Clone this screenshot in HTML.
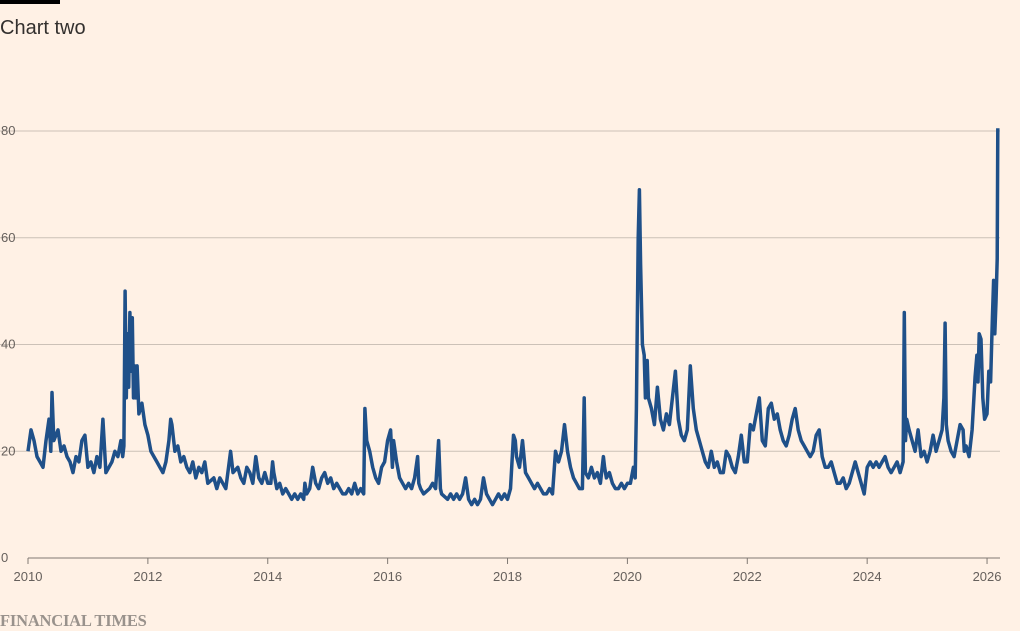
<!DOCTYPE html>
<html><head><meta charset="utf-8"><style>
body{margin:0;background:#fff1e5;width:1020px;height:630px;overflow:hidden;font-family:"Liberation Sans",sans-serif}
</style></head><body>
<div style="position:absolute;left:0;top:0;width:60px;height:4px;background:#000"></div>
<div style="position:absolute;left:0;top:17px;font-size:20px;color:#33302e">Chart two</div>
<svg id="c" width="1020" height="630" style="position:absolute;left:0;top:0"></svg>
<div style="position:absolute;left:0;top:611px;font-family:'Liberation Serif',serif;font-size:16.5px;color:#99928c;font-weight:bold;letter-spacing:-0.2px">FINANCIAL TIMES</div>
<script>
const years=[2010,2010.05,2010.1,2010.15,2010.2,2010.25,2010.3,2010.35,2010.38,2010.4,2010.43,2010.5,2010.55,2010.6,2010.65,2010.7,2010.75,2010.8,2010.85,2010.9,2010.95,2011,2011.05,2011.1,2011.15,2011.2,2011.25,2011.3,2011.35,2011.4,2011.45,2011.5,2011.55,2011.58,2011.6,2011.62,2011.64,2011.66,2011.68,2011.7,2011.72,2011.74,2011.76,2011.78,2011.8,2011.82,2011.85,2011.9,2011.95,2012,2012.05,2012.1,2012.15,2012.2,2012.25,2012.3,2012.35,2012.38,2012.4,2012.45,2012.5,2012.55,2012.6,2012.65,2012.7,2012.75,2012.8,2012.85,2012.9,2012.95,2013,2013.1,2013.15,2013.2,2013.25,2013.3,2013.38,2013.42,2013.5,2013.55,2013.6,2013.65,2013.7,2013.75,2013.8,2013.85,2013.9,2013.95,2014,2014.05,2014.08,2014.1,2014.15,2014.2,2014.25,2014.3,2014.35,2014.4,2014.45,2014.5,2014.55,2014.6,2014.62,2014.65,2014.7,2014.75,2014.8,2014.85,2014.9,2014.95,2015,2015.05,2015.1,2015.15,2015.2,2015.25,2015.3,2015.35,2015.4,2015.45,2015.5,2015.55,2015.6,2015.62,2015.65,2015.7,2015.75,2015.8,2015.85,2015.9,2015.95,2016,2016.05,2016.08,2016.1,2016.15,2016.2,2016.25,2016.3,2016.35,2016.4,2016.45,2016.5,2016.52,2016.55,2016.6,2016.7,2016.75,2016.8,2016.85,2016.88,2016.9,2017,2017.05,2017.1,2017.15,2017.2,2017.25,2017.3,2017.35,2017.4,2017.45,2017.5,2017.55,2017.6,2017.65,2017.7,2017.75,2017.8,2017.85,2017.9,2017.95,2018,2018.05,2018.1,2018.13,2018.15,2018.2,2018.25,2018.3,2018.35,2018.4,2018.45,2018.5,2018.55,2018.6,2018.65,2018.7,2018.75,2018.8,2018.85,2018.9,2018.95,2019,2019.05,2019.1,2019.15,2019.2,2019.25,2019.28,2019.3,2019.35,2019.4,2019.45,2019.5,2019.55,2019.6,2019.62,2019.65,2019.7,2019.75,2019.8,2019.85,2019.9,2019.95,2020,2020.05,2020.1,2020.13,2020.15,2020.18,2020.2,2020.22,2020.25,2020.28,2020.3,2020.33,2020.35,2020.4,2020.45,2020.5,2020.55,2020.6,2020.65,2020.7,2020.75,2020.8,2020.85,2020.9,2020.95,2021,2021.05,2021.1,2021.15,2021.2,2021.25,2021.3,2021.35,2021.4,2021.45,2021.5,2021.55,2021.6,2021.65,2021.7,2021.75,2021.8,2021.85,2021.9,2021.95,2022,2022.05,2022.1,2022.15,2022.2,2022.25,2022.3,2022.35,2022.4,2022.45,2022.5,2022.55,2022.6,2022.65,2022.7,2022.75,2022.8,2022.85,2022.9,2022.95,2023,2023.05,2023.1,2023.15,2023.2,2023.25,2023.3,2023.35,2023.4,2023.45,2023.5,2023.55,2023.6,2023.65,2023.7,2023.75,2023.8,2023.85,2023.9,2023.95,2024,2024.05,2024.1,2024.15,2024.2,2024.25,2024.3,2024.35,2024.4,2024.45,2024.5,2024.55,2024.6,2024.62,2024.64,2024.66,2024.7,2024.75,2024.8,2024.85,2024.9,2024.95,2025,2025.05,2025.1,2025.15,2025.2,2025.25,2025.28,2025.3,2025.32,2025.35,2025.4,2025.45,2025.5,2025.55,2025.6,2025.62,2025.65,2025.7,2025.75,2025.78,2025.8,2025.83,2025.85,2025.87,2025.9,2025.93,2025.96,2026,2026.03,2026.06,2026.09,2026.11,2026.13,2026.15,2026.17,2026.18];
const values=[20,24,22,19,18,17,22,26,20,31,22,24,20,21,19,18,16,19,18,22,23,17,18,16,19,17,26,16,17,18,20,19,22,19,21,50,30,42,32,46,35,45,30,36,30,36,27,29,25,23,20,19,18,17,16,18,22,26,25,20,21,18,19,17,16,18,15,17,16,18,14,15,13,15,14,13,20,16,17,15,14,17,16,14,19,15,14,16,14,14,18,16,13,14,12,13,12,11,12,11,12,11,14,12,13,17,14,13,15,16,14,15,13,14,13,12,12,13,12,14,12,13,12,28,22,20,17,15,14,17,18,22,24,17,22,18,15,14,13,14,13,15,19,14,13,12,13,14,13,22,13,12,11,12,11,12,11,12,15,11,10,11,10,11,15,12,11,10,11,12,11,12,11,13,23,22,19,17,22,16,15,14,13,14,13,12,12,13,12,20,18,20,25,20,17,15,14,13,13,30,16,15,17,15,16,14,19,17,15,16,14,13,13,14,13,14,14,17,15,28,60,69,55,40,38,30,37,30,28,25,32,26,24,27,25,30,35,26,23,22,24,36,28,24,22,20,18,17,20,17,18,16,16,20,19,17,16,19,23,18,18,25,24,27,30,22,21,28,29,26,27,24,22,21,23,26,28,24,22,21,20,19,20,23,24,19,17,17,18,16,14,14,15,13,14,16,18,16,14,12,17,18,17,18,17,18,19,17,16,17,18,16,18,46,22,26,24,22,20,24,19,20,18,20,23,20,22,24,30,44,25,22,20,19,22,25,24,20,21,19,24,30,34,38,33,42,41,30,26,27,35,33,45,52,42,48,56,80.5];
const yTicks=[0,20,40,60,80];
const xTicks=[2010,2012,2014,2016,2018,2020,2022,2024,2026];
const NS='http://www.w3.org/2000/svg';
const svg=document.getElementById('c');
const x=v=>28+(v-2010)*59.94;
const y=v=>558-v*5.3375;
function mk(t,a){const e=document.createElementNS(NS,t);for(const k in a)e.setAttribute(k,a[k]);svg.appendChild(e);return e;}
yTicks.forEach(t=>{
  if(t>0){const g=mk('line',{x1:0,x2:1000,y1:y(t),y2:y(t),stroke:'#ccc1b7','stroke-width':1});
  
  }
  const l=mk('text',{x:1,y:y(t)+4,'font-size':13,fill:'#66605c','font-family':'Liberation Sans, sans-serif'});
  l.textContent=t;
  
  
});
const ax=mk('line',{x1:28,x2:1000,y1:558,y2:558,stroke:'#807973','stroke-width':1});


xTicks.forEach(t=>{
  const tk=mk('line',{x1:x(t),x2:x(t),y1:558,y2:564,stroke:'#807973','stroke-width':1});
  
  
  const l=mk('text',{x:x(t),y:581,'font-size':13,fill:'#66605c','text-anchor':'middle','font-family':'Liberation Sans, sans-serif'});
  l.textContent=t;
  
  
});
const d=years.map((v,i)=>(i?'L':'M')+x(v).toFixed(1)+' '+y(values[i]).toFixed(1)).join(' ');
const p=mk('path',{d:d,fill:'none',stroke:'#1f5089','stroke-width':3.5,'stroke-linejoin':'round'});


</script>
</body></html>
